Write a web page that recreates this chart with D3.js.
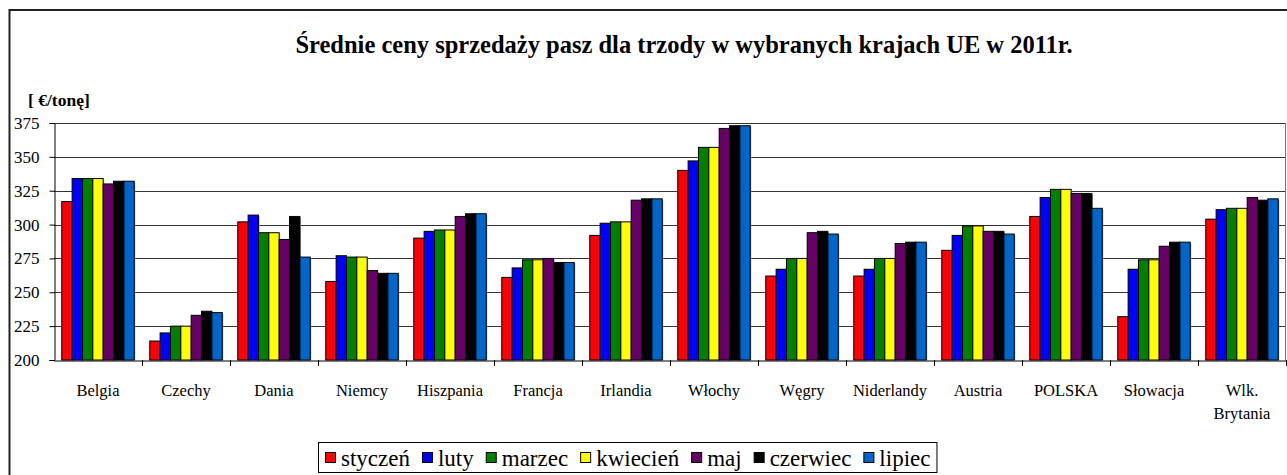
<!DOCTYPE html>
<html><head><meta charset="utf-8">
<script src="https://cdn.jsdelivr.net/npm/d3@7"></script>
<style>body{margin:0;background:#fff}svg{display:block}</style>
</head><body><svg id="c" width="1287" height="475" font-family="'Liberation Serif', 'DejaVu Serif', serif"></svg>
<script>
const categories = ["Belgia","Czechy","Dania","Niemcy","Hiszpania","Francja","Irlandia","Włochy","Węgry","Niderlandy","Austria","POLSKA","Słowacja","Wlk. Brytania"];
const months = ["styczeń","luty","marzec","kwiecień","maj","czerwiec","lipiec"];
const styczen  = [317,214,302,258,290,261,292,340,262,262,281,306,232,304];
const luty     = [334,220,307,277,295,268,301,347,267,267,292,320,267,311];
const marzec   = [334,225,294,276,296,274,302,357,275,275,299,326,274,312];
const kwiecien = [334,225,294,276,296,274,302,357,275,275,299,326,274,312];
const maj      = [330,233,289,266,306,275,318,371,294,286,295,323,284,320];
const czerwiec = [332,236,306,264,308,272,319,373,295,287,295,323,287,318];
const lipiec   = [332,235,276,264,308,272,319,373,293,287,293,312,287,319];
const seriesValues = [styczen,luty,marzec,kwiecien,maj,czerwiec,lipiec];
const colors = ["#FF0000","#0000FF","#008000","#FFFF00","#660066","#000000","#0066CC"];
const yTicks = [200,225,250,275,300,325,350,375];
const title = "Średnie ceny sprzedaży pasz dla trzody w wybranych krajach UE w 2011r.";
const unit = "[ €/tonę]";

const FF = "'Liberation Serif', 'DejaVu Serif', serif";
const svg = d3.select("#c");
const L = 54, R = 1286, T = 123, B = 360;

svg.append("rect").attr("x",9.5).attr("y",10).attr("width",1290).attr("height",480)
  .attr("fill","none").attr("stroke","#222").attr("stroke-width",2);

svg.append("text").attr("x",684).attr("y",53).attr("text-anchor","middle").attr("font-family",FF)
  .attr("font-weight","bold").attr("font-size",24.5).text(title);
svg.append("text").attr("x",28).attr("y",106).attr("font-family",FF).attr("font-weight","bold").attr("font-size",17.5).text(unit);

const y = d3.scaleLinear().domain([200,375]).range([B,T]);
const x0 = d3.scaleBand().domain(categories).range([L,R]).padding(0);
const bw = x0.bandwidth();
const x1 = d3.scaleBand().domain(months).range([bw*0.75/8.5, bw - bw*0.75/8.5]).padding(0);

svg.append("g").selectAll("line").data(yTicks.slice(1)).join("line")
  .attr("x1",L).attr("x2",R).attr("y1",d=>Math.round(y(d))+0.5).attr("y2",d=>Math.round(y(d))+0.5)
  .attr("stroke","#333").attr("stroke-width",1);
svg.append("line").attr("x1",R-0.5).attr("x2",R-0.5).attr("y1",T).attr("y2",B).attr("stroke","#777");

const g = svg.append("g");
categories.forEach((c,i)=>{
  months.forEach((m,j)=>{
    const v = seriesValues[j][i];
    g.append("rect").attr("x",x0(c)+x1(m)+1).attr("y",y(v)+1).attr("width",x1.bandwidth()).attr("height",y(200)-y(v)-1)
      .attr("fill","#999");
    g.append("rect").attr("x",x0(c)+x1(m)).attr("y",y(v)).attr("width",x1.bandwidth()).attr("height",y(200)-y(v))
      .attr("fill",colors[j]).attr("stroke","#000").attr("stroke-width",1);
  });
});

const ya = svg.append("g").attr("transform",`translate(${L+0.5},0)`)
  .call(d3.axisLeft(y).tickValues(yTicks).tickSize(5).tickPadding(10));
ya.attr("font-family",FF);
ya.select(".domain").attr("stroke","#000");
ya.selectAll(".tick line").attr("stroke","#000");
ya.selectAll("text").attr("font-size",17).attr("font-family",FF).attr("fill","#000");

const xa = svg.append("g").attr("transform",`translate(0,${B+0.5})`)
  .call(d3.axisBottom(x0).tickSize(0).tickPadding(0));
xa.select(".domain").attr("stroke","#000");
xa.selectAll(".tick text").remove();
svg.append("g").selectAll("line").data(categories).join("line")
  .attr("x1",d=>Math.round(x0(d)+bw)+0.5).attr("x2",d=>Math.round(x0(d)+bw)+0.5)
  .attr("y1",B).attr("y2",B+6).attr("stroke","#000");
const labs = svg.append("g").selectAll("text").data(categories).join("text")
  .attr("x",d=>x0(d)+bw/2).attr("y",396).attr("text-anchor","middle").attr("font-size",16.5).attr("font-family",FF);
labs.each(function(d){
  const parts = d==="Wlk. Brytania" ? ["Wlk.","Brytania"] : [d];
  const t = d3.select(this);
  parts.forEach((p,k)=>t.append("tspan").attr("x",x0(d)+bw/2).attr("dy",k?23:0).text(p));
});

const lg = svg.append("g");
const box = lg.append("rect").attr("x",318.5).attr("y",442.5).attr("height",30)
  .attr("fill","#fff").attr("stroke","#000");
let lx = 325;
months.forEach((m,j)=>{
  lg.append("rect").attr("x",lx+0.5).attr("y",452.5).attr("width",10).attr("height",10)
    .attr("fill",colors[j]).attr("stroke","#000");
  const t = lg.append("text").attr("x",lx+16).attr("y",466).attr("font-size",23).attr("font-family",FF).text(m);
  lx += 16 + t.node().getComputedTextLength() + 12;
});
box.attr("width", lx - 318 - 6);
</script></body></html>
